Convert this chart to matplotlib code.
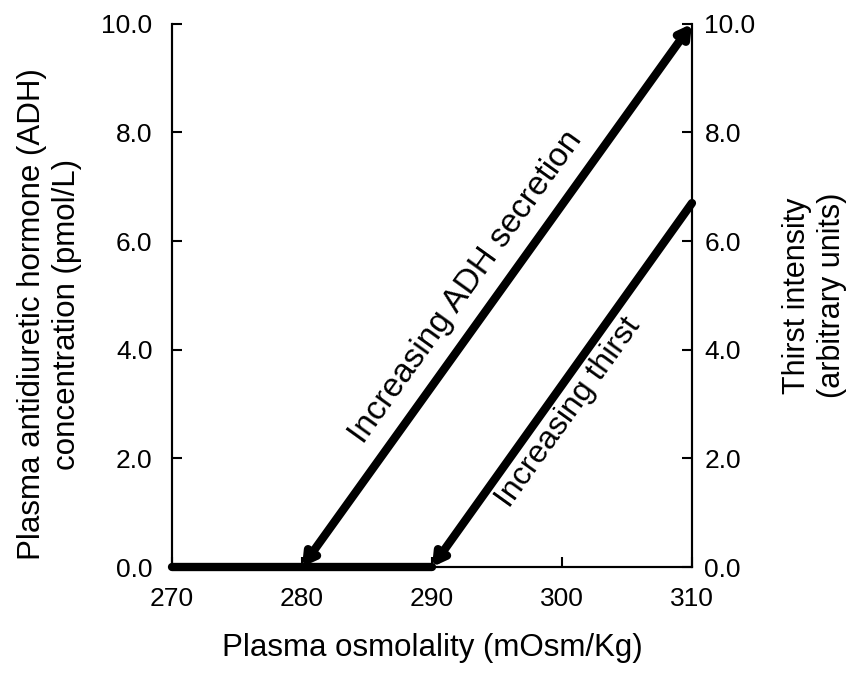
import numpy as np
import matplotlib
matplotlib.use('Agg')
import matplotlib.pyplot as plt
from matplotlib import rcParams

rcParams['font.family'] = ['Liberation Sans', 'DejaVu Sans']

# data
adh_x = [280, 310]
adh_y = [0.0, 10.0]
thirst_x = [290, 310]
thirst_y = [0.0, 6.7]
base_x = [270, 290]
base_y = [0.0, 0.0]
xticks = [270, 280, 290, 300, 310]
yticks = [0, 2, 4, 6, 8, 10]

fig = plt.figure(figsize=(8.53, 6.80), dpi=100)
ax = fig.add_axes([0.2016, 0.166, 0.6096, 0.799])
ax.set_xlim(270, 310)
ax.set_ylim(0, 10)
ax2 = ax.twinx()
ax2.set_ylim(0, 10)

for a in (ax, ax2):
    a.spines['top'].set_visible(False)
    for s in a.spines.values():
        s.set_linewidth(1.5)
    a.tick_params(direction='in', length=7, width=1.5, labelsize=19)
ax.tick_params(axis='y', pad=14)
ax.tick_params(axis='x', pad=14)
ax2.tick_params(axis='y', pad=9)

ax.set_xticks(xticks)
ax.set_yticks(yticks)
ax.set_yticklabels(['%.1f' % v for v in yticks])
ax2.set_yticks(yticks)
ax2.set_yticklabels(['%.1f' % v for v in yticks])

ax.set_xlabel('Plasma osmolality (mOsm/Kg)', fontsize=22.5, labelpad=16)
ax.set_ylabel('Plasma antidiuretic hormone (ADH)\nconcentration (pmol/L)', fontsize=22.5, labelpad=14)
ax.yaxis.label.set_y(0.465)
ax2.set_ylabel('Thirst intensity\n(arbitrary units)', fontsize=22, labelpad=19, rotation=90)

# baseline
ax.plot(base_x, base_y, color='black', lw=6, solid_capstyle='round', clip_on=False, zorder=5)

# ADH line with arrow heads both ends
ax.annotate('', xy=(adh_x[1], adh_y[1]), xytext=(adh_x[0], adh_y[0]),
            arrowprops=dict(arrowstyle='<|-|>,head_length=0.7,head_width=0.4',
                            lw=6, color='black', shrinkA=0, shrinkB=0),
            annotation_clip=False, zorder=6)
# thirst line, arrow head at bottom only
ax.annotate('', xy=(thirst_x[0], thirst_y[0]), xytext=(thirst_x[1], thirst_y[1]),
            arrowprops=dict(arrowstyle='-|>,head_length=0.7,head_width=0.4',
                            lw=6, color='black', shrinkA=0, shrinkB=0, capstyle='round'),
            annotation_clip=False, zorder=6)

fig.canvas.draw()
p0 = ax.transData.transform((adh_x[0], adh_y[0]))
p1 = ax.transData.transform((adh_x[1], adh_y[1]))
ang = np.degrees(np.arctan2(p1[1] - p0[1], p1[0] - p0[0]))

ax.text(292.6, 5.15, 'Increasing ADH secretion', rotation=ang, rotation_mode='anchor',
        ha='center', va='center', fontsize=24)
ax.text(300.5, 2.85, 'Increasing thirst', rotation=ang, rotation_mode='anchor',
        ha='center', va='center', fontsize=23)

plt.savefig('out.png', dpi=100)
plt.close()
